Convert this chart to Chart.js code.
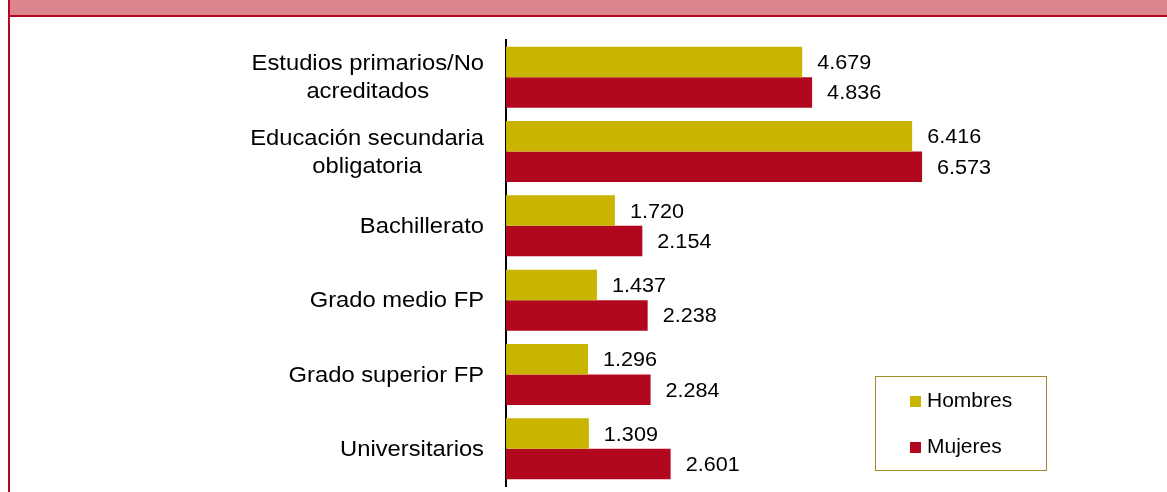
<!DOCTYPE html>
<html>
<head>
<meta charset="utf-8">
<script src="https://cdn.jsdelivr.net/npm/chart.js@4"></script>
<style>
  html, body { margin: 0; padding: 0; background: #fff; }
  #wrap { position: relative; width: 1167px; height: 492px; overflow: hidden; }
  #band { position: absolute; left: 10px; top: 0; width: 1157px; height: 15px; background: #db858c; border-bottom: 2px solid #b5081f; }
  #lline { position: absolute; left: 8px; top: 0; width: 2px; height: 492px; background: #b5081f; }
  #c { position: absolute; left: 0; top: 0; }
</style>
</head>
<body>
<div id="wrap">
  <div id="band"></div>
  <div id="lline"></div>
  <canvas id="c" width="1167" height="492"></canvas>
</div>
<script>
const categories = [
  ["Estudios primarios/No", "acreditados"],
  ["Educación secundaria", "obligatoria"],
  ["Bachillerato"],
  ["Grado medio FP"],
  ["Grado superior FP"],
  ["Universitarios"]
];
const hombres = [4679, 6416, 1720, 1437, 1296, 1309];
const mujeres = [4836, 6573, 2154, 2238, 2284, 2601];
const seriesNames = ["Hombres", "Mujeres"];
const seriesColors = ["#c9b400", "#b1081f"];

function fmt(v) {
  return String(v).replace(/\B(?=(\d{3})+(?!\d))/g, ".");
}

const FONT = "'Liberation Sans', Arial, sans-serif";

// draw text stretched horizontally by sx; align: 'left' | 'center' | 'right'
function drawText(ctx, txt, x, y, sx, align) {
  ctx.save();
  ctx.translate(x, y);
  ctx.scale(sx, 1);
  ctx.textAlign = align;
  ctx.textBaseline = "middle";
  ctx.fillText(txt, 0, 0);
  ctx.restore();
}

const valueLabels = {
  id: "valueLabels",
  afterDatasetsDraw(chart) {
    const ctx = chart.ctx;
    ctx.save();
    ctx.font = "20px " + FONT;
    ctx.fillStyle = "#000";
    chart.data.datasets.forEach((ds, di) => {
      const meta = chart.getDatasetMeta(di);
      meta.data.forEach((bar, i) => {
        drawText(ctx, fmt(ds.data[i]), bar.x + 15, bar.y + 1.5, 1.08, "left");
      });
    });
    ctx.restore();
  }
};

const catLabels = {
  id: "catLabels",
  afterDraw(chart) {
    const ctx = chart.ctx;
    const ys = chart.scales.y;
    const sx = 1.08;
    ctx.save();
    ctx.font = "22px " + FONT;
    ctx.fillStyle = "#000";
    const right = chart.chartArea.left - 22;
    const lh = 28;
    chart.data.labels.forEach((lines, i) => {
      const y = ys.getPixelForValue(i);
      const maxW = Math.max(...lines.map(l => ctx.measureText(l).width)) * sx;
      const cx = right - maxW / 2;
      lines.forEach((l, j) => {
        drawText(ctx, l, cx, y + (j - (lines.length - 1) / 2) * lh + 1, sx, "center");
      });
    });
    ctx.restore();
  }
};

const legendBox = {
  id: "legendBox",
  afterDraw(chart) {
    const ctx = chart.ctx;
    ctx.save();
    ctx.strokeStyle = "#a08a2a";
    ctx.lineWidth = 1;
    ctx.strokeRect(875.5, 376.5, 171, 94);
    ctx.font = "20px " + FONT;
    chart.data.datasets.forEach((ds, i) => {
      const y = 396 + i * 46;
      ctx.fillStyle = ds.backgroundColor;
      ctx.fillRect(910, y, 11, 11);
      ctx.fillStyle = "#000";
      drawText(ctx, ds.label, 927, y + 5.5, 1.05, "left");
    });
    ctx.restore();
  }
};

new Chart(document.getElementById("c"), {
  type: "bar",
  data: {
    labels: categories,
    datasets: [
      { label: seriesNames[0], data: hombres, backgroundColor: seriesColors[0], borderWidth: 0 },
      { label: seriesNames[1], data: mujeres, backgroundColor: seriesColors[1], borderWidth: 0 }
    ]
  },
  options: {
    indexAxis: "y",
    responsive: false,
    animation: false,
    devicePixelRatio: 1,
    layout: { padding: { top: 40, bottom: 6, right: 28, left: 0 } },
    datasets: { bar: { categoryPercentage: 0.82, barPercentage: 1.0 } },
    plugins: { legend: { display: false }, tooltip: { enabled: false } },
    scales: {
      x: { display: false, min: 0, max: 10000 },
      y: {
        display: true,
        grid: { display: false, drawTicks: false },
        border: { display: true, color: "#000", width: 2 },
        ticks: { display: false },
        afterFit(scale) { scale.width = 506; }
      }
    }
  },
  plugins: [valueLabels, catLabels, legendBox]
});
</script>
</body>
</html>
